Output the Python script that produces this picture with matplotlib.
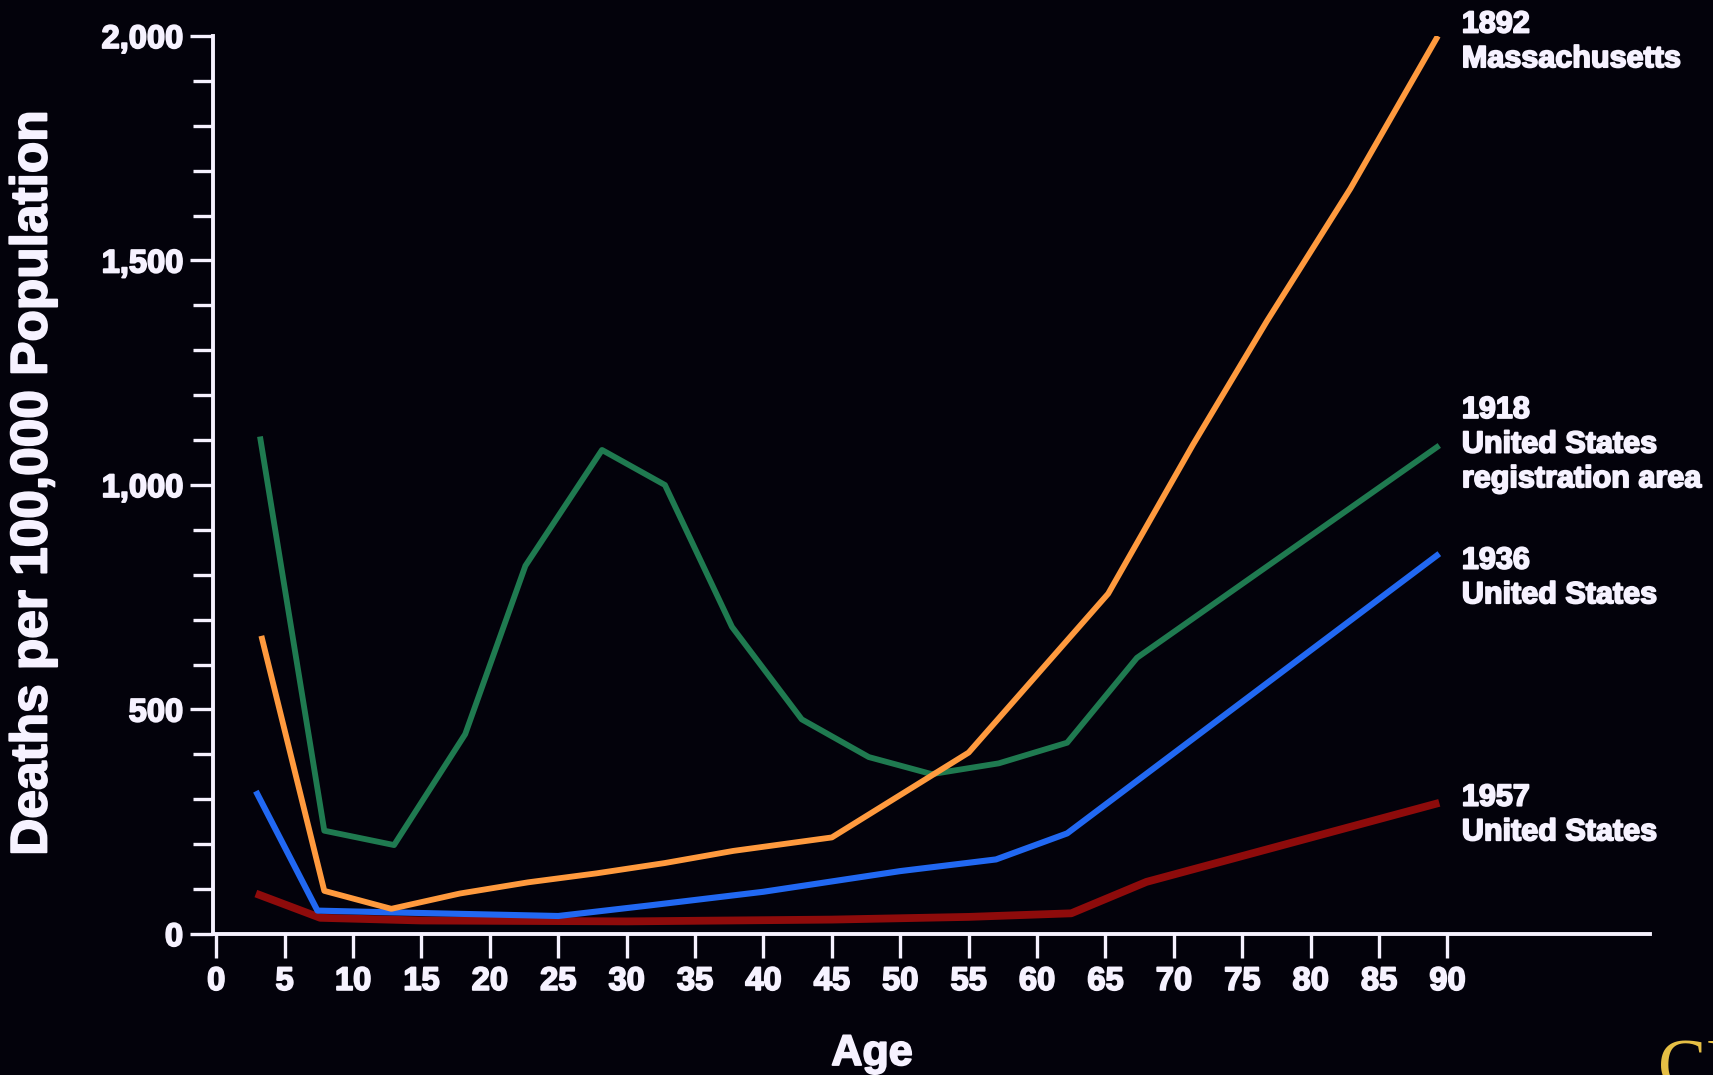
import matplotlib
matplotlib.use("Agg")
import matplotlib.pyplot as plt
import matplotlib.patheffects as pe
from matplotlib.ticker import MultipleLocator, FuncFormatter

# values (age, deaths per 100,000)
age_1892 = [3.3, 7.9, 12.8, 17.8, 22.8, 27.8, 32.8, 37.8, 45.0, 55.0, 65.2, 71.4, 76.8, 82.9, 89.3]
deaths_1892 = [664, 96, 56, 90, 115, 135, 158, 185, 215, 404, 758, 1090, 1365, 1660, 2000]

age_1918 = [3.2, 7.9, 13.0, 18.2, 22.6, 28.2, 32.8, 37.7, 42.8, 47.7, 52.3, 57.2, 62.2, 67.3, 89.4]
deaths_1918 = [1108, 230, 198, 445, 820, 1078, 1000, 684, 478, 394, 356, 380, 426, 615, 1088]

age_1936 = [2.9, 7.4, 13.0, 25.0, 31.8, 40.0, 50.0, 57.0, 62.2, 89.4]
deaths_1936 = [318, 52, 48, 40, 64, 94, 140, 166, 224, 847]

age_1957 = [2.9, 7.6, 15.0, 30.0, 45.0, 55.0, 62.5, 68.0, 89.4]
deaths_1957 = [90, 36, 30, 28, 32, 38, 46, 116, 292]

labels = ["1892\nMassachusetts",
          "1918\nUnited States\nregistration area",
          "1936\nUnited States",
          "1957\nUnited States"]
label_y = [1987, 1090, 793, 265]

bg = "#03020b"
fg = "#f6f2ff"
font = ["Liberation Sans", "DejaVu Sans"]
plt.rcParams["font.family"] = font
plt.rcParams["font.weight"] = "bold"
glow = [pe.withStroke(linewidth=1.3, foreground=fg)]

fig = plt.figure(figsize=(17.13, 10.75), dpi=100, facecolor=bg)
ax = fig.add_axes([0.1243, 0.1312, 0.8389, 0.8353])
ax.set_facecolor(bg)

ax.plot(age_1957, deaths_1957, color="#8e0b0b", lw=5.6, solid_capstyle="butt", zorder=3)
ax.plot(age_1936, deaths_1936, color="#2168f2", lw=4.4, solid_capstyle="butt", zorder=4)
ax.plot(age_1918, deaths_1918, color="#1f7a50", lw=4.2, solid_capstyle="butt", zorder=5)
ax.plot(age_1892, deaths_1892, color="#ff9a3e", lw=4.2, solid_capstyle="butt", zorder=6)

ax.set_xlim(-0.24, 104.8)
ax.set_ylim(0, 2000)

ax.set_xticks(range(0, 91, 5))
ax.yaxis.set_major_locator(MultipleLocator(500))
ax.yaxis.set_minor_locator(MultipleLocator(100))
ax.yaxis.set_major_formatter(FuncFormatter(lambda v, p: f"{int(v):,}"))

for s in ["top", "right"]:
    ax.spines[s].set_visible(False)
for s in ["left", "bottom"]:
    ax.spines[s].set_color(fg)
    ax.spines[s].set_linewidth(2.8)

ax.tick_params(axis="x", which="major", direction="out", length=17, width=2.4,
               color=fg, labelcolor=fg, labelsize=23.5, pad=6)
ax.tick_params(axis="y", which="major", direction="out", length=16.5, width=2.4,
               color=fg, labelcolor=fg, labelsize=23.5, pad=5)
ax.tick_params(axis="y", which="minor", direction="out", length=14.5, width=2.4, color=fg)

for lab in ax.get_xticklabels() + ax.get_yticklabels():
    lab.set_fontweight("bold")
    lab.set_path_effects(glow)

for txt, y in zip(labels, label_y):
    ax.text(91.05, y, txt, color=fg, fontsize=22, fontweight="bold", ha="left",
            va="center", linespacing=1.2, clip_on=False, path_effects=glow)

fig.text(33 / 1713, 0.5507, "Deaths per 100,000 Population", rotation=90, color=fg,
         fontsize=37, fontweight="bold", ha="center", va="center", path_effects=glow)
fig.text(0.509, 0.0093, "Age", color=fg, fontsize=31, fontweight="bold",
         ha="center", va="baseline", path_effects=glow)

# bit of the agency logo cut off at the corner
fig.text(0.968, 0.0344, "CDC", color="#e6bf45", fontsize=52, family="Liberation Serif",
         fontweight="normal", ha="left", va="top")

fig.savefig("out.png", dpi=100, facecolor=bg)
